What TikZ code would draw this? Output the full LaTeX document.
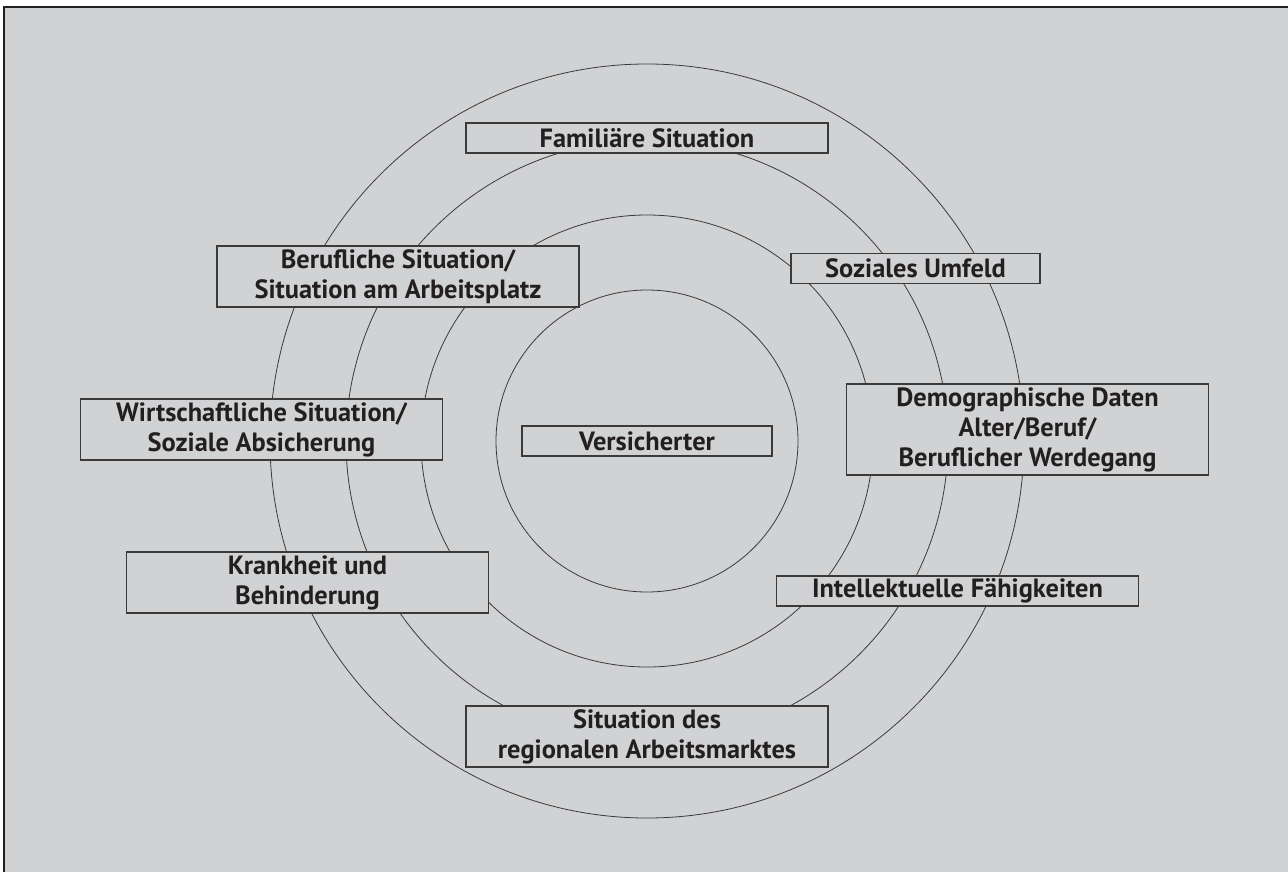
\documentclass[tikz,border=0pt]{standalone}
\usepackage{xcolor}
\usepackage{tikz}
\usepackage{fontspec}
\setsansfont{PT Sans}
\usetikzlibrary{positioning}
\definecolor{papergrey}{HTML}{D1D2D4}
\definecolor{inkdark}{HTML}{231F20}
\definecolor{ringgrey}{HTML}{3A3A3A}

\begin{document}
\begin{tikzpicture}[x=0.5pt, y=-0.5pt, font=\sffamily\bfseries\fontsize{13.2}{15}\selectfont, text=inkdark]
    \tikzstyle{ring} = [draw=ringgrey, line width=0.4pt]
    \tikzstyle{feld} = [rectangle, draw=ringgrey, fill=papergrey, line width=0.6pt, minimum width=181pt, minimum height=15pt, inner sep=0pt, align=center]

    \useasboundingbox (0,0) rectangle (1288,872);
    \fill [papergrey] (4,7) rectangle (1288,872);
    \draw [inkdark, line width=1pt] (4,872) -- (4,7) -- (1288,7);

    \coordinate (mitte) at (647,441);
    \foreach \r in {151,226,301,377}
      \draw [ring] (mitte) circle [radius=\r*0.5pt];

    \node (fam) [feld] at (647,138) {Familiäre Situation};
    \node (beruf) [feld, minimum height=30.5pt] at (398,276.5) {Berufliche Situation/\\Situation am Arbeitsplatz};
    \node (sozial) [feld, minimum width=124.5pt] at (915.5,268.5) {Soziales Umfeld};
    \node (wirt) [feld, minimum height=30.5pt] at (261.5,429.5) {Wirtschaftliche Situation/\\Soziale Absicherung};
    \node (vers) [feld, minimum width=125pt] at (mitte) {Versicherter};
    \node (demo) [feld, minimum height=45.5pt] at (1027.5,429.5) {Demographische Daten\\Alter/Beruf/\\Beruflicher Werdegang};
    \node (krank) [feld, minimum height=30.5pt] at (307.5,582.5) {Krankheit und\\Behinderung};
    \node (intel) [feld] at (957.5,591) {Intellektuelle Fähigkeiten};
    \node (markt) [feld, minimum height=30.5pt] at (647,736.5) {Situation des\\regionalen Arbeitsmarktes};
\end{tikzpicture}
\end{document}
